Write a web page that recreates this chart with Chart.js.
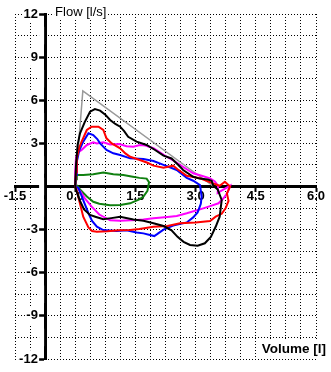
<!DOCTYPE html>
<html><head><meta charset="utf-8">
<style>html,body{margin:0;padding:0;background:#fff}</style>
<script src="https://cdn.jsdelivr.net/npm/chart.js@4"></script>
</head><body>
<canvas id="c" width="331" height="372"></canvas>
<script>
// ---- tick labels ----
const xTickValues = [-1.5, 0, 1.5, 3, 4.5, 6];
const xTickLabels = ['-1.5', '0.0', '1.5', '3.0', '4.5', '6.0'];
const yTickValues = [12, 9, 6, 3, -3, -6, -9, -12];
const yTickLabels = ['12', '9', '6', '3', '-3', '-6', '-9', '-12'];
const xTitle = 'Volume [l]';
const yTitle = 'Flow [l/s]';

// ---- series (volume [l], flow [l/s]) ----
const grayVol  = [0, 0.19, 3.45];
const grayFlow = [0, 6.65, 0];

const blackVol  = [0,0.02,0.06,0.12,0.24,0.37,0.49,0.62,0.75,0.87,1.0,1.12,1.22,1.32,1.53,1.78,1.99,2.2,2.4,2.57,2.69,2.94,3.1,3.3,3.4,3.44,3.55,3.65,3.6,3.5,3.38,3.23,3.05,2.86,2.7,2.55,2.4,2.2,1.95,1.7,1.45,1.12,0.9,0.7,0.5,0.37,0.22,0.12,0.04,0];
const blackFlow = [0,1.5,2.9,3.7,4.5,5.2,5.39,5.28,5.0,4.63,4.35,4.16,3.85,3.46,3.12,2.89,2.54,2.15,1.95,1.5,1.15,0.68,0.55,0.48,0.4,0.05,-0.2,-0.94,-2.1,-2.8,-3.5,-3.95,-4.12,-4.07,-3.85,-3.5,-3.05,-2.75,-2.56,-2.38,-2.3,-2.1,-2.2,-2.28,-2.1,-1.98,-1.6,-1.0,-0.4,0];

const redVol  = [0,0.02,0.04,0.1,0.16,0.29,0.41,0.58,0.7,0.78,0.91,1.12,1.25,1.37,1.61,1.8,1.95,2.2,2.44,2.55,2.78,3.11,3.4,3.6,3.73,3.86,3.78,3.82,3.75,3.65,3.5,3.36,3.0,2.61,2.3,1.95,1.6,1.37,1.1,0.8,0.54,0.42,0.33,0.2,0.12,0.04,0];
const redFlow = [0,1.0,1.96,2.7,3.12,3.93,4.16,4.16,3.93,3.35,3.0,2.66,2.3,2.07,1.84,1.65,1.45,1.3,1.45,1.2,0.75,0.57,0.25,0.05,0.33,0,-0.47,-1.0,-1.5,-1.9,-2.1,-2.4,-2.5,-2.55,-2.75,-2.8,-2.95,-3.03,-3.05,-3.12,-3.14,-3.1,-2.85,-2.1,-1.2,-0.3,0];

const blueVol  = [0,0.02,0.04,0.1,0.2,0.33,0.45,0.55,0.62,0.78,0.95,1.12,1.37,1.7,1.95,2.2,2.53,2.78,2.94,3.11,3.15,3.13,3.05,2.94,2.78,2.44,2.2,2.05,1.97,1.7,1.53,1.28,1.03,0.7,0.54,0.42,0.33,0.2,0.08,0];
const blueFlow = [0,0.8,1.73,2.5,3.12,3.7,3.58,3.3,3.0,2.54,2.31,2.19,1.96,1.91,1.77,1.5,1.15,0.6,0.4,0.1,-0.7,-1.2,-1.8,-2.15,-2.5,-2.72,-3.0,-3.3,-3.45,-3.26,-3.2,-3.05,-3.1,-3.03,-2.8,-2.4,-1.86,-0.94,-0.1,0];

const magentaVol  = [0,0.0,0.02,0.06,0.16,0.29,0.45,0.54,0.7,0.87,1.1,1.28,1.45,1.61,1.75,1.95,2.1,2.28,2.45,2.61,2.78,2.94,3.15,3.36,3.48,3.56,3.55,3.7,3.86,3.8,3.7,3.57,3.38,3.19,2.78,2.53,2.36,1.95,1.7,1.53,1.12,0.87,0.6,0.41,0.24,0.12,0];
const magentaFlow = [0,1.0,2.0,2.35,2.54,2.89,3.07,3.0,3.07,2.92,2.95,2.8,2.77,2.89,2.85,2.66,2.4,2.07,1.8,1.5,1.2,0.92,0.75,0.57,0.35,0.05,-0.45,-0.2,0.05,-0.4,-0.8,-1.17,-1.35,-1.52,-1.86,-2.05,-2.1,-2.21,-2.3,-2.33,-2.38,-2.35,-1.95,-1.4,-0.82,-0.3,0];

const greenVol  = [0,0.02,0.04,0.2,0.45,0.7,0.95,1.2,1.4,1.6,1.78,1.84,1.8,1.7,1.61,1.37,1.12,0.87,0.6,0.45,0.29,0.12,0.04];
const greenFlow = [0,0.5,0.8,0.8,0.85,0.97,0.85,0.8,0.7,0.6,0.55,0.3,-0.3,-0.7,-0.88,-1.17,-1.29,-1.3,-1.2,-1.06,-0.7,-0.2,0.1];

// ---- helpers ----
const pts = (xs, ys) => xs.map((v, i) => ({x: v, y: ys[i]}));
const near = (v, list) => list.findIndex(t => Math.abs(t - v) < 1e-6);
const font = {family: '"Liberation Sans", Arial, sans-serif', size: 13, weight: 'bold'};

const series = [
  {label: 'black', data: pts(blackVol, blackFlow), color: '#000000', w: 2},
  {label: 'red', data: pts(redVol, redFlow), color: '#ff0000', w: 2},
  {label: 'blue', data: pts(blueVol, blueFlow), color: '#0000ff', w: 2},
  {label: 'magenta', data: pts(magentaVol, magentaFlow), color: '#ff00ff', w: 2},
  {label: 'green', data: pts(greenVol, greenFlow), color: '#108010', w: 2},
  {label: 'predicted', data: pts(grayVol, grayFlow), color: '#999999', w: 1.5}
];

const titlesPlugin = {
  id: 'axisTitles',
  beforeDatasetsDraw(chart) {
    const {ctx, scales: {x, y}} = chart;
    ctx.save();
    ctx.textBaseline = 'middle';
    ctx.font = '13px "Liberation Sans", Arial, sans-serif';
    let tx = x.getPixelForValue(-0.75) + 10, ty = y.getPixelForValue(12) - 2;
    let w = ctx.measureText(yTitle).width;
    ctx.fillStyle = '#fff'; ctx.fillRect(tx - 1, ty - 8, w + 2, 16);
    ctx.fillStyle = '#000'; ctx.textAlign = 'left'; ctx.fillText(yTitle, tx, ty);
    ctx.font = 'bold 13.5px "Liberation Sans", Arial, sans-serif';
    tx = x.getPixelForValue(6) + 10; ty = y.getPixelForValue(-11.3);
    w = ctx.measureText(xTitle).width;
    ctx.fillStyle = '#fff'; ctx.fillRect(tx - w - 1, ty - 8, w + 2, 16);
    ctx.fillStyle = '#000'; ctx.textAlign = 'right'; ctx.fillText(xTitle, tx, ty);
    ctx.restore();
  }
};

new Chart(document.getElementById('c'), {
  type: 'scatter',
  data: {
    datasets: series.map(s => ({
      label: s.label, data: s.data, showLine: true,
      borderColor: s.color, backgroundColor: s.color, borderWidth: s.w,
      pointRadius: 0, tension: 0, fill: false
    }))
  },
  options: {
    responsive: false, animation: false, devicePixelRatio: 1,
    layout: {padding: {left: 15, right: 15, top: 14, bottom: 13}},
    plugins: {legend: {display: false}, tooltip: {enabled: false}, title: {display: false}},
    scales: {
      x: {
        type: 'linear', min: -1.5, max: 6, position: {y: 0},
        afterFit: s => { s.height = 0; },
        ticks: {
          stepSize: 0.375, autoSkip: false, maxRotation: 0, minRotation: 0, padding: -2,
          color: '#000', font: font,
          callback: v => { const i = near(v, xTickValues); return i >= 0 ? xTickLabels[i] : ''; }
        },
        grid: {
          color: '#000', lineWidth: 1, drawTicks: true, tickLength: 4, tickWidth: 2,
          tickColor: c => (c.tick && near(c.tick.value, xTickValues) >= 0) ? '#000' : 'rgba(0,0,0,0)',
          tickBorderDash: []
        },
        border: {display: true, color: '#000', width: 3, dash: [1, 2]}
      },
      y: {
        type: 'linear', min: -12, max: 12, position: {x: -0.75},
        afterFit: s => { s.width = 0; },
        ticks: {
          stepSize: 1.5, autoSkip: false, padding: 3, color: '#000', font: font,
          showLabelBackdrop: true, backdropColor: '#fff',
          backdropPadding: {top: 1, bottom: 1, left: 1, right: -6},
          // two trailing spaces keep the label clear of the axis line
          callback: v => { const i = near(v, yTickValues); return i >= 0 ? yTickLabels[i] + '  ' : ''; }
        },
        grid: {
          color: '#000', lineWidth: 1, drawTicks: true, tickLength: 6, tickWidth: 2.5,
          tickColor: c => (c.tick && near(c.tick.value, yTickValues) >= 0) ? '#000' : 'rgba(0,0,0,0)',
          tickBorderDash: []
        },
        border: {display: true, color: '#000', width: 3, dash: [1, 2]}
      }
    }
  },
  plugins: [titlesPlugin]
});
</script>
</body></html>
